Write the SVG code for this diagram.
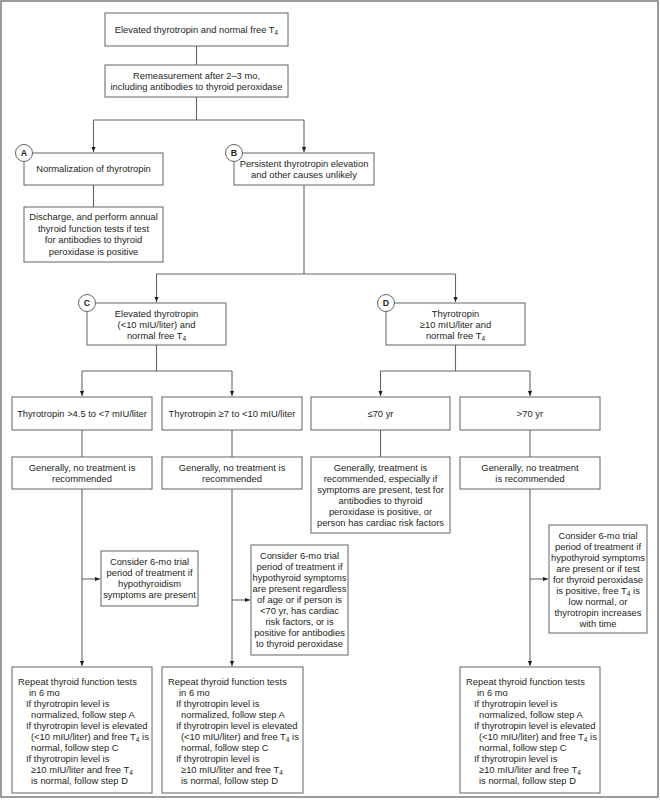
<svg xmlns="http://www.w3.org/2000/svg" width="660" height="808" viewBox="0 0 660 808">
<style>
.bx{fill:#fff;stroke:#636466;stroke-width:1}
.ln{fill:none;stroke:#636466;stroke-width:1.1}
.ar{fill:none;stroke:#636466;stroke-width:1.1;marker-end:url(#ah)}
text{font-family:"Liberation Sans",Arial,sans-serif;font-size:9.4px;fill:#231f20}
.c{text-anchor:middle}
.cir{fill:#fff;stroke:#636466;stroke-width:1}
.lt{font-weight:bold;font-size:8.8px;text-anchor:middle}
</style>
<defs>
<marker id="ah" markerUnits="userSpaceOnUse" markerWidth="7" markerHeight="6" refX="5.5" refY="2.3" orient="auto">
<path d="M0,0 L5.5,2.3 L0,4.6 z" fill="#231f20"/>
</marker>
</defs>
<rect x="1" y="1" width="657" height="796" fill="#fff" stroke="#808285" stroke-width="1.6"/>
<g id="connectors">
<path class="ln" d="M196.5,46 V65"/>
<path class="ln" d="M196.5,97 V120 M93.5,120 H304"/>
<path class="ar" d="M93.5,120 V152"/>
<path class="ar" d="M304,120 V152"/>
<path class="ln" d="M93.5,185 V207"/>
<path class="ln" d="M304,185 V274 M156.5,274 H455.5"/>
<path class="ar" d="M156.5,274 V302"/>
<path class="ar" d="M455.5,274 V302"/>
<path class="ln" d="M156.5,345 V371 M82,371 H232"/>
<path class="ar" d="M82,371 V396"/>
<path class="ar" d="M232,371 V396"/>
<path class="ln" d="M455.5,345 V371 M380.5,371 H530"/>
<path class="ar" d="M380.5,371 V396"/>
<path class="ar" d="M530,371 V396"/>
<path class="ln" d="M82,430 V457 M232,430 V457 M380.5,430 V457 M530,430 V457"/>
<path class="ar" d="M82,489 V666"/>
<path class="ar" d="M232,489 V666"/>
<path class="ar" d="M530,489 V666"/>
<path class="ar" d="M82,579 H100"/>
<path class="ar" d="M232,600 H250"/>
<path class="ar" d="M530,579 H548"/>
</g>
<g id="start">
<rect class="bx" x="105" y="13" width="183" height="33"/>
<text class="c" x="196.5" y="32.5">Elevated thyrotropin and normal free T<tspan font-size="6.5" dy="2">4</tspan></text>
</g>
<g id="remeasure">
<rect class="bx" x="105" y="65" width="183" height="32"/>
<text class="c" x="196.5" y="78.5">Remeasurement after 2–3 mo,</text>
<text class="c" x="196.5" y="90">including antibodies to thyroid peroxidase</text>
</g>
<g id="nodeA">
<rect class="bx" x="24" y="153" width="139" height="32"/>
<circle class="cir" cx="24" cy="153" r="8.5"/>
<text class="lt" x="24" y="156.2">A</text>
<text class="c" x="93.5" y="172">Normalization of thyrotropin</text>
</g>
<g id="nodeB">
<rect class="bx" x="234" y="153" width="140" height="32"/>
<circle class="cir" cx="234" cy="153" r="8.5"/>
<text class="lt" x="234" y="156.2">B</text>
<text class="c" x="304" y="166.5">Persistent thyrotropin elevation</text>
<text class="c" x="304" y="177.5">and other causes unlikely</text>
</g>
<g id="discharge">
<rect class="bx" x="24" y="207" width="139" height="55"/>
<text class="c" x="93.5" y="220">Discharge, and perform annual</text>
<text class="c" x="93.5" y="231.5">thyroid function tests if test</text>
<text class="c" x="93.5" y="243">for antibodies to thyroid</text>
<text class="c" x="93.5" y="254.5">peroxidase is positive</text>
</g>
<g id="nodeC">
<rect class="bx" x="87" y="303" width="139" height="42"/>
<circle class="cir" cx="87" cy="303" r="8.5"/>
<text class="lt" x="87" y="306.2">C</text>
<text class="c" x="156.5" y="317">Elevated thyrotropin</text>
<text class="c" x="156.5" y="328">(&lt;10 mIU/liter) and</text>
<text class="c" x="156.5" y="339">normal free T<tspan font-size="6.5" dy="2">4</tspan></text>
</g>
<g id="nodeD">
<rect class="bx" x="386" y="303" width="139" height="42"/>
<circle class="cir" cx="386" cy="303" r="8.5"/>
<text class="lt" x="386" y="306.2">D</text>
<text class="c" x="455.5" y="317">Thyrotropin</text>
<text class="c" x="455.5" y="328">≥10 mIU/liter and</text>
<text class="c" x="455.5" y="339">normal free T<tspan font-size="6.5" dy="2">4</tspan></text>
</g>
<g id="tsh-4-7">
<rect class="bx" x="12" y="397" width="140" height="33"/>
<text class="c" x="82" y="417">Thyrotropin &gt;4.5 to &lt;7 mIU/liter</text>
</g>
<g id="tsh-7-10">
<rect class="bx" x="162" y="397" width="140" height="33"/>
<text class="c" x="232" y="417">Thyrotropin ≥7 to &lt;10 mIU/liter</text>
</g>
<g id="age-le70">
<rect class="bx" x="311" y="397" width="139" height="33"/>
<text class="c" x="380.5" y="417">≤70 yr</text>
</g>
<g id="age-gt70">
<rect class="bx" x="460" y="397" width="140" height="33"/>
<text class="c" x="530" y="417">&gt;70 yr</text>
</g>
<g id="notreat1">
<rect class="bx" x="12" y="457" width="140" height="32"/>
<text class="c" x="82" y="470.5">Generally, no treatment is</text>
<text class="c" x="82" y="481.5">recommended</text>
</g>
<g id="notreat2">
<rect class="bx" x="162" y="457" width="140" height="32"/>
<text class="c" x="232" y="470.5">Generally, no treatment is</text>
<text class="c" x="232" y="481.5">recommended</text>
</g>
<g id="treat">
<rect class="bx" x="311" y="457" width="139" height="76"/>
<text class="c" x="380.5" y="470.5">Generally, treatment is</text>
<text class="c" x="380.5" y="481.5">recommended, especially if</text>
<text class="c" x="380.5" y="492.5">symptoms are present, test for</text>
<text class="c" x="380.5" y="503.5">antibodies to thyroid</text>
<text class="c" x="380.5" y="514.5">peroxidase is positive, or</text>
<text class="c" x="380.5" y="525.5">person has cardiac risk factors</text>
</g>
<g id="notreat3">
<rect class="bx" x="460" y="457" width="140" height="32"/>
<text class="c" x="530" y="470.5">Generally, no treatment</text>
<text class="c" x="530" y="481.5">is recommended</text>
</g>
<g id="consider1">
<rect class="bx" x="101" y="551" width="97" height="55"/>
<text class="c" x="149.5" y="565">Consider 6-mo trial</text>
<text class="c" x="149.5" y="576">period of treatment if</text>
<text class="c" x="149.5" y="587">hypothyroidism</text>
<text class="c" x="149.5" y="598">symptoms are present</text>
</g>
<g id="consider2">
<rect class="bx" x="251" y="545" width="97" height="110"/>
<text class="c" x="299.5" y="559">Consider 6-mo trial</text>
<text class="c" x="299.5" y="570">period of treatment if</text>
<text class="c" x="299.5" y="581">hypothyroid symptoms</text>
<text class="c" x="299.5" y="592">are present regardless</text>
<text class="c" x="299.5" y="603">of age or if person is</text>
<text class="c" x="299.5" y="614">&lt;70 yr, has cardiac</text>
<text class="c" x="299.5" y="625">risk factors, or is</text>
<text class="c" x="299.5" y="636">positive for antibodies</text>
<text class="c" x="299.5" y="647">to thyroid peroxidase</text>
</g>
<g id="consider3">
<rect class="bx" x="549" y="525" width="98" height="108"/>
<text class="c" x="598" y="538.5">Consider 6-mo trial</text>
<text class="c" x="598" y="549.5">period of treatment if</text>
<text class="c" x="598" y="560.5">hypothyroid symptoms</text>
<text class="c" x="598" y="571.5">are present or if test</text>
<text class="c" x="598" y="582.5">for thyroid peroxidase</text>
<text class="c" x="598" y="593.5">is positive, free T<tspan font-size="6.5" dy="2">4</tspan><tspan dy="-2"> is</tspan></text>
<text class="c" x="598" y="604.5">low normal, or</text>
<text class="c" x="598" y="615.5">thyrotropin increases</text>
<text class="c" x="598" y="626.5">with time</text>
</g>
<g id="repeat1">
<rect class="bx" x="12" y="667" width="140" height="126"/>
<text x="18" y="685">Repeat thyroid function tests</text>
<text x="29" y="696">in 6 mo</text>
<text x="26" y="707">If thyrotropin level is</text>
<text x="31" y="718">normalized, follow step A</text>
<text x="26" y="729">If thyrotropin level is elevated</text>
<text x="31" y="740">(&lt;10 mIU/liter) and free T<tspan font-size="6.5" dy="2">4</tspan><tspan dy="-2"> is</tspan></text>
<text x="31" y="751">normal, follow step C</text>
<text x="26" y="762">If thyrotropin level is</text>
<text x="31" y="773">≥10 mIU/liter and free T<tspan font-size="6.5" dy="2">4</tspan></text>
<text x="31" y="784">is normal, follow step D</text>
</g>
<g id="repeat2">
<rect class="bx" x="162" y="667" width="141" height="126"/>
<text x="168" y="685">Repeat thyroid function tests</text>
<text x="179" y="696">in 6 mo</text>
<text x="176" y="707">If thyrotropin level is</text>
<text x="181" y="718">normalized, follow step A</text>
<text x="176" y="729">If thyrotropin level is elevated</text>
<text x="181" y="740">(&lt;10 mIU/liter) and free T<tspan font-size="6.5" dy="2">4</tspan><tspan dy="-2"> is</tspan></text>
<text x="181" y="751">normal, follow step C</text>
<text x="176" y="762">If thyrotropin level is</text>
<text x="181" y="773">≥10 mIU/liter and free T<tspan font-size="6.5" dy="2">4</tspan></text>
<text x="181" y="784">is normal, follow step D</text>
</g>
<g id="repeat3">
<rect class="bx" x="460" y="667" width="140" height="126"/>
<text x="466" y="685">Repeat thyroid function tests</text>
<text x="477" y="696">in 6 mo</text>
<text x="474" y="707">If thyrotropin level is</text>
<text x="479" y="718">normalized, follow step A</text>
<text x="474" y="729">If thyrotropin level is elevated</text>
<text x="479" y="740">(&lt;10 mIU/liter) and free T<tspan font-size="6.5" dy="2">4</tspan><tspan dy="-2"> is</tspan></text>
<text x="479" y="751">normal, follow step C</text>
<text x="474" y="762">If thyrotropin level is</text>
<text x="479" y="773">≥10 mIU/liter and free T<tspan font-size="6.5" dy="2">4</tspan></text>
<text x="479" y="784">is normal, follow step D</text>
</g>
</svg>
